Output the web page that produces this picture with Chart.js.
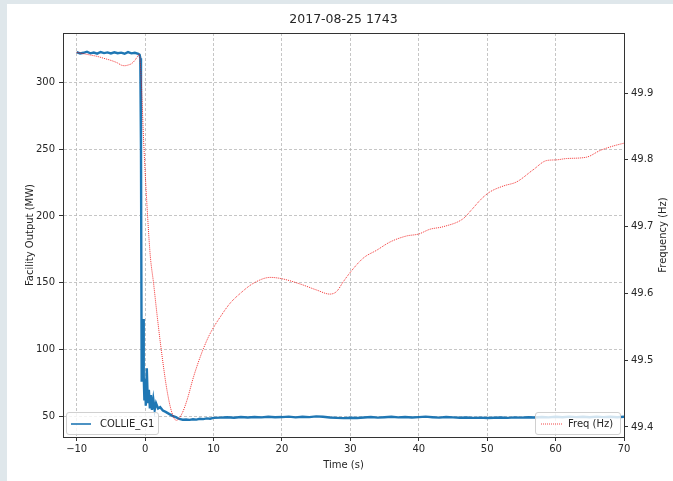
<!DOCTYPE html>
<html><head><meta charset="utf-8">
<script src="https://cdn.jsdelivr.net/npm/chart.js@4/dist/chart.umd.min.js"></script>
<style>
html,body{margin:0;padding:0;background:#dfe7eb;width:673px;height:481px;overflow:hidden}
#wrap{position:absolute;left:7px;top:4px;width:666px;height:477px;background:#fff}
canvas{display:block}
</style></head><body>
<div id="wrap"><canvas id="c" width="666" height="477"></canvas></div>
<script>
const titleText = '2017-08-25 1743';
const xLabel = 'Time (s)';
const mwLabel = 'Facility Output (MW)';
const hzLabel = 'Frequency (Hz)';
const blueName = 'COLLIE_G1';
const redName = 'Freq (Hz)';
const xTicks = [-10, 0, 10, 20, 30, 40, 50, 60, 70];
const mwTicks = [50, 100, 150, 200, 250, 300];
const hzTicks = [49.4, 49.5, 49.6, 49.7, 49.8, 49.9];

const blueTime = [-10,-9.5,-9,-8.5,-8,-7.5,-7,-6.5,-6,-5.5,-5,-4.5,-4,-3.5,-3,-2.5,-2,-1.5,-1,
  -0.8,-0.7,-0.6,-0.5,-0.4,-0.3,-0.2,-0.1,0,0.1,0.25,0.4,0.55,0.7,0.85,1.0,1.2,1.4,1.6,1.9,2.2,2.6,3.0,3.5,4.0,4.5,
  5,5.5,6,6.5,7,7.5,8,8.5,9,9.5,10,
  11,12,13,14,15,16,17,18,19,20,21,22,23,24,25,26,27,28,29,30,31,32,33,34,35,36,37,38,39,40,
  41,42,43,44,45,46,47,48,49,50,51,52,53,54,55,56,57,58,59,60,61,62,63,64,65,66,67,68,69,70];
const blueMW = [322.5,321.5,322,322.8,321.6,322.2,321.4,322.6,321.8,322.3,321.5,322.4,321.7,322.1,321.3,322.5,321.6,322,321.2,
  320.5,318,250,76,98,123,80,62,78,58,86,60,70,56,66,55,63,55,60,56,57,54.5,53.5,52,50.5,49.5,
  48.2,47.6,47.8,47.5,48,47.7,48.3,48.1,48.6,48.4,49.0,
  49.2,49.5,49.1,49.6,49.3,49.7,49.4,49.8,49.5,49.6,49.9,49.4,49.8,49.6,50.1,49.8,49.3,49.0,48.8,49.1,48.9,49.3,49.6,49.2,49.5,49.8,49.4,49.7,49.3,49.6,
  49.9,49.5,49.2,49.6,49.4,49.1,49.3,49.0,49.2,48.9,49.1,49.3,49.0,49.4,49.2,49.5,49.3,49.7,49.4,49.8,49.5,49.9,49.6,49.8,49.5,49.9,49.6,49.8,49.5,49.9];

const freqTime = [-10,-9,-8,-7,-6,-5,-4,-3.5,-3,-2.5,-2,-1.5,-1.1,-0.85,-0.7,-0.5,-0.22,0.37,0.76,1.24,1.78,2.37,3.2,3.93,4.56,5.39,6.12,7.08,8.06,9.04,9.77,11.0,12.4,
  13.9,15.8,18.3,20,22.7,25.1,27,28,29,30.1,31.9,33.9,35.8,38.2,40,41.6,43.6,46.5,47.7,49.2,50.4,52.4,54.3,56.7,58.7,60.1,61.6,64.5,66.5,68.5,70];
const freqHz = [49.961,49.959,49.957,49.955,49.952,49.949,49.945,49.942,49.941,49.942,49.944,49.949,49.955,49.958,49.945,49.905,49.830,49.715,49.656,49.615,49.565,49.515,49.455,49.421,49.410,49.420,49.440,49.475,49.505,49.530,49.545,49.565,49.585,
  49.600,49.615,49.624,49.622,49.614,49.605,49.599,49.603,49.618,49.633,49.653,49.665,49.677,49.686,49.689,49.696,49.700,49.712,49.725,49.742,49.752,49.761,49.767,49.785,49.799,49.800,49.802,49.804,49.814,49.821,49.825];

const FONT = 'DejaVu Sans';
const TXT = '#262626';
const RED = 'rgba(240,0,0,0.9)';

const framePlugin = {
  id: 'frame',
  beforeDraw(chart) {
    const ctx = chart.ctx;
    ctx.save();
    ctx.fillStyle = '#fff';
    ctx.fillRect(0, 0, chart.width, chart.height);
    ctx.restore();
  },
  afterDraw(chart) {
    const {ctx, chartArea: a} = chart;
    ctx.save();
    ctx.strokeStyle = '#333';
    ctx.lineWidth = 1;
    ctx.strokeRect(Math.round(a.left) + 0.5, Math.round(a.top) + 0.5, Math.round(a.right - a.left), Math.round(a.bottom - a.top));
    // title
    ctx.fillStyle = TXT;
    ctx.font = '12.5px ' + FONT;
    ctx.textAlign = 'center';
    ctx.textBaseline = 'middle';
    ctx.fillText(titleText, (a.left + a.right) / 2, 16);
    // right axis title (reads bottom to top)
    ctx.save();
    ctx.translate(656, (a.top + a.bottom) / 2);
    ctx.rotate(-Math.PI / 2);
    ctx.font = '10px ' + FONT;
    ctx.fillText(hzLabel, 0, 0);
    ctx.restore();
    // legends
    function box(x, y, w, h) {
      ctx.beginPath();
      const r = 2.5;
      ctx.moveTo(x + r, y); ctx.lineTo(x + w - r, y); ctx.quadraticCurveTo(x + w, y, x + w, y + r);
      ctx.lineTo(x + w, y + h - r); ctx.quadraticCurveTo(x + w, y + h, x + w - r, y + h);
      ctx.lineTo(x + r, y + h); ctx.quadraticCurveTo(x, y + h, x, y + h - r);
      ctx.lineTo(x, y + r); ctx.quadraticCurveTo(x, y, x + r, y);
      ctx.closePath();
      ctx.fillStyle = 'rgba(255,255,255,0.8)';
      ctx.fill();
      ctx.strokeStyle = '#d0d0d0';
      ctx.lineWidth = 1;
      ctx.stroke();
    }
    const ly = a.bottom - 13;
    box(a.left + 3.5, a.bottom - 24.5, 92, 22);
    ctx.strokeStyle = '#1f77b4';
    ctx.lineWidth = 1.6;
    ctx.beginPath(); ctx.moveTo(a.left + 8, ly); ctx.lineTo(a.left + 28, ly); ctx.stroke();
    ctx.fillStyle = TXT;
    ctx.font = '10px ' + FONT;
    ctx.textAlign = 'left';
    ctx.fillText(blueName, a.left + 37, ly);
    box(a.right - 88.5, a.bottom - 24.5, 85, 22);
    ctx.strokeStyle = RED;
    ctx.lineWidth = 0.8;
    ctx.setLineDash([1, 1]);
    ctx.beginPath(); ctx.moveTo(a.right - 83, ly); ctx.lineTo(a.right - 62, ly); ctx.stroke();
    ctx.setLineDash([]);
    ctx.fillStyle = TXT;
    ctx.fillText(redName, a.right - 56, ly);
    ctx.restore();
  }
};

const gridCommon = {color: '#b8b8b8', lineWidth: 0.8, tickLength: 4, tickColor: '#333', tickWidth: 1, tickBorderDash: []};

new Chart(document.getElementById('c'), {
  type: 'line',
  data: {
    datasets: [
      {label: redName, data: freqTime.map((t, i) => ({x: t, y: freqHz[i]})), yAxisID: 'y2', order: 0,
       borderColor: RED, borderWidth: 0.9, borderDash: [1, 1], pointRadius: 0, cubicInterpolationMode: 'monotone', fill: false},
      {label: blueName, data: blueTime.map((t, i) => ({x: t, y: blueMW[i]})), yAxisID: 'y', order: 1,
       borderColor: '#1f77b4', borderWidth: 2.4, pointRadius: 0, tension: 0, fill: false}
    ]
  },
  options: {
    responsive: false, animation: false, devicePixelRatio: 1,
    layout: {padding: {top: 29, left: 0, right: 0, bottom: 0}},
    plugins: {legend: {display: false}, tooltip: {enabled: false}, title: {display: false}},
    scales: {
      x: {
        type: 'linear', position: 'bottom', min: -12, max: 70,
        afterBuildTicks: s => { s.ticks = xTicks.map(v => ({value: v})); },
        afterFit: s => { s.height = 44; },
        grid: Object.assign({}, gridCommon),
        border: {display: true, color: '#333', width: 1, dash: [3, 2]},
        ticks: {font: {family: FONT, size: 10}, color: TXT, padding: 2, maxRotation: 0,
                callback: v => (v < 0 ? '\u2212' + Math.abs(v) : String(v))},
        title: {display: true, text: xLabel, font: {family: FONT, size: 10}, color: TXT, padding: {top: 0, bottom: 10}}
      },
      y: {
        type: 'linear', position: 'left', min: 34.7, max: 336.8,
        afterBuildTicks: s => { s.ticks = mwTicks.map(v => ({value: v})); },
        afterFit: s => { s.width = 56; },
        grid: Object.assign({}, gridCommon),
        border: {display: true, color: '#333', width: 1, dash: [3, 2]},
        ticks: {font: {family: FONT, size: 10}, color: TXT, padding: 4},
        title: {display: true, text: mwLabel, font: {family: FONT, size: 10}, color: TXT, padding: {top: 17, bottom: 0}}
      },
      y2: {
        type: 'linear', position: 'right', min: 49.385, max: 49.99,
        afterBuildTicks: s => { s.ticks = hzTicks.map(v => ({value: v})); },
        afterFit: s => { s.width = 49; },
        grid: Object.assign({}, gridCommon, {drawOnChartArea: false}),
        border: {display: true, color: '#333', width: 1},
        ticks: {font: {family: FONT, size: 10}, color: TXT, padding: 3, callback: v => Number(v).toFixed(1)},
        title: {display: false}
      }
    }
  },
  plugins: [framePlugin]
});
</script>
</body></html>
